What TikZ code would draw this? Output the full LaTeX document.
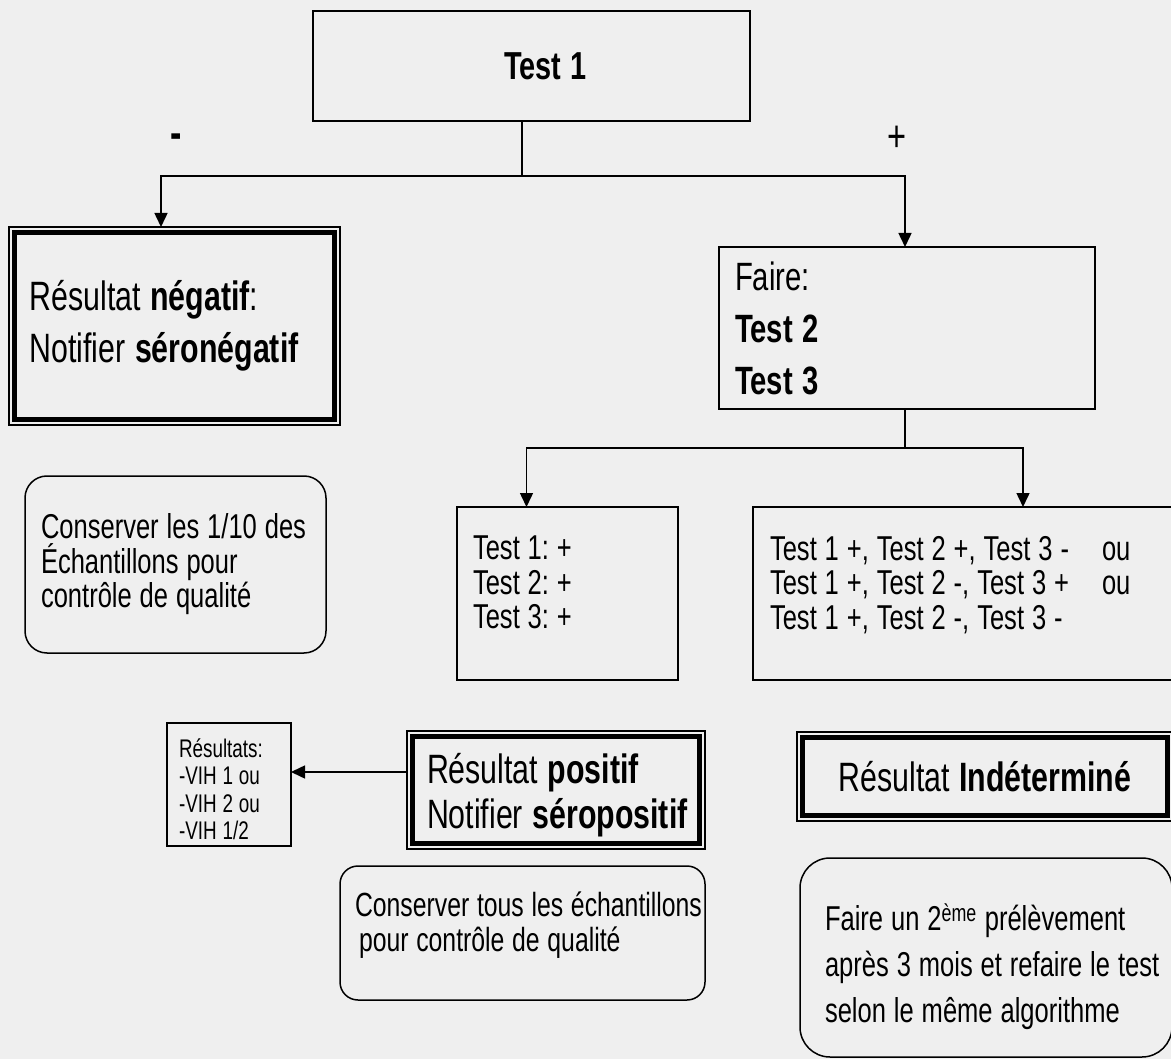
\documentclass[tikz,border=0pt]{standalone}
\usepackage{fontspec}
\setmainfont{Liberation Sans}[FakeStretch=0.74]
\usetikzlibrary{arrows.meta}
\definecolor{bgc}{RGB}{239,239,239}
\newcommand\wsp{\spaceskip=0.23em\relax\xspaceskip=0.23em\relax}
\newcommand\fbig{\fontsize{41}{52}\selectfont}
\newcommand\fsmall{\fontsize{34.5}{34.5}\selectfont}
\newcommand\ftiny{\fontsize{25.5}{27.5}\selectfont}
% invisible struts to move a text block inside its box
\newcommand\upby[1]{\rule[-#1]{0pt}{0pt}}
\newcommand\dnby[1]{\rule{0pt}{#1}}
\begin{document}
\frenchspacing
\begin{tikzpicture}[x=1pt,y=-1pt,
  box/.style={draw, line width=1.5pt, inner sep=0pt, outer sep=0pt, anchor=north west, align=left, execute at begin node=\wsp},
  rbox/.style={box, rounded corners=#1},
  conn/.style={line width=1.5pt},
  arr/.style={conn, -{Triangle[length=14pt,width=13pt]}},
  thickin/.style={line width=5.5pt}
]
\fill[bgc] (0,0) rectangle (1171,1059);
\useasboundingbox (0,0) rectangle (1171,1059);
\clip (0,0) rectangle (1171,1059);

% top box
\node[box, minimum width=437pt, minimum height=110pt, align=center, font=\fontsize{39}{40}\selectfont] (t1) at (313,11) {\hspace*{28pt}\textbf{Test 1}};

% negative result
\node[box, minimum width=331pt, minimum height=198pt, text width=290pt, font=\fbig] (neg) at (9,227)
  {\mbox{Résultat \textbf{négatif}:}\\\mbox{Notifier \textbf{séronégatif}}};

% faire
\node[box, minimum width=376pt, minimum height=162pt, text width=344pt, font=\fontsize{39.5}{52}\selectfont] (faire) at (719,247)
  {Faire:\\\textbf{Test 2}\\\textbf{Test 3}};

% test results
\node[box, minimum width=221pt, minimum height=173pt, text width=189pt, font=\fsmall] (tl) at (457,507)
  {\mbox{Test 1: +}\\\mbox{Test 2: +}\\\mbox{Test 3: +}\upby{22pt}};
\node[box, minimum width=430pt, minimum height=173pt, text width=396pt, font=\fsmall] (tr) at (753,507)
  {\makebox[332pt][l]{Test 1 +, Test 2 +, Test 3 -}ou\\
   \makebox[332pt][l]{Test 1 +, Test 2 -, Test 3 +}ou\\
   \mbox{Test 1 +, Test 2 -, Test 3 -}\upby{22pt}};

% conserver 1/10
\node[rbox=22pt, minimum width=301pt, minimum height=177pt, text width=269pt, font=\fsmall] (c10) at (25,476)
  {\mbox{Conserver les 1/10 des}\\\mbox{Échantillons pour}\\\mbox{contrôle de qualité}};

% resultats VIH
\node[box, minimum width=124pt, minimum height=123pt, text width=100pt, font=\ftiny] (res) at (167,723)
  {\dnby{28pt}\mbox{Résultats:}\\\mbox{-VIH 1 ou}\\\mbox{-VIH 2 ou}\\\mbox{-VIH 1/2}};

% positive
\node[box, minimum width=298pt, minimum height=118pt, text width=258pt, font=\fontsize{41}{45}\selectfont] (pos) at (407,731)
  {\dnby{41pt}\mbox{Résultat \textbf{positif}}\\\mbox{Notifier \textbf{séropositif}}};

% conserver tous
\node[rbox=18pt, minimum width=365pt, minimum height=134pt, text width=335pt, font=\fontsize{33.5}{35}\selectfont] (ctous) at (340,866)
  {\mbox{Conserver tous les échantillons}\\\mbox{\hspace*{4pt}pour contrôle de qualité}\upby{22pt}};

% indetermine
\node[box, minimum width=376pt, minimum height=89pt, align=center, font=\fbig] (ind) at (797,732)
  {Résultat \textbf{Indéterminé}};

% second sample
\node[rbox=30pt, minimum width=372pt, minimum height=199pt, text width=322pt, font=\fontsize{34.5}{46}\selectfont] (ech) at (800,858)
  {\dnby{46pt}\mbox{Faire un 2\textsuperscript{ème} prélèvement}\\\mbox{après 3 mois et refaire le test}\\\mbox{selon le même algorithme}};

% thick inner borders of the double-framed boxes
\foreach \n in {neg,pos,ind}
  \draw[thickin] ([shift={(5.5,5.5)}]\n.north west) rectangle ([shift={(-5.5,-5.5)}]\n.south east);

% connectors
\draw[conn] ([xshift=-9.5pt]t1.south) -- ++(0,55) coordinate (j1);
\draw[arr] (j1) -| ([xshift=-13.5pt]neg.north);
\draw[arr] (j1) -| ([xshift=-2pt]faire.north);
\draw[conn] ([xshift=-2pt]faire.south) -- ++(0,39) coordinate (j2);
\draw[arr] (j2) -| ([xshift=-41pt]tl.north);
\draw[arr] (j2) -| ([xshift=55pt]tr.north);
\draw[arr] ([yshift=18pt]pos.west) -- ([yshift=18pt]pos.west -| res.east);

% branch labels
\node[font=\fontsize{46}{46}\selectfont\bfseries] (lminus) at (176,141) {-};
\node[font=\fontsize{44}{44}\selectfont] (lplus) at (897,139) {+};
\end{tikzpicture}
\end{document}
